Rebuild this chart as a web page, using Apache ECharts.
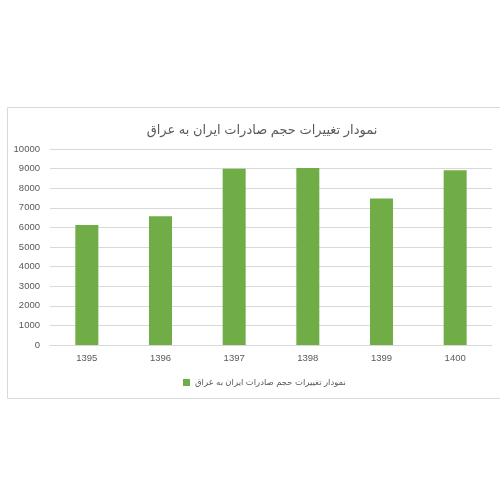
<!DOCTYPE html>
<html><head><meta charset="utf-8">
<script src="https://cdn.jsdelivr.net/npm/echarts@6/dist/echarts.min.js"></script>
<style>html,body{margin:0;padding:0;background:#fff}#c{width:500px;height:500px}</style>
</head><body><div id="c"></div>
<script>
const titleText = 'نمودار تغییرات حجم صادرات ایران به عراق';
const seriesName = 'نمودار تغییرات حجم صادرات ایران به عراق';
const categories = ['1395','1396','1397','1398','1399','1400'];
const values = [6120, 6570, 8990, 9030, 7470, 8910];
const yTicks = { min: 0, max: 10000, interval: 1000 };

const chart = echarts.init(document.getElementById('c'), null, {renderer:'canvas'});
const font = '"Liberation Sans", "DejaVu Sans", sans-serif';
chart.setOption({
  animation: false,
  graphic: [{
    type: 'rect', shape: {x: 7.5, y: 107.5, width: 500, height: 291},
    style: {fill: 'none', stroke: '#d9d9d9', lineWidth: 1}, silent: true, z: -1
  }],
  title: {
    text: titleText, left: 257, top: 119, textAlign: 'center',
    textStyle: {fontFamily: font, fontSize: 13, fontWeight: 'normal', color: '#595959'}
  },
  legend: {
    data: [seriesName], left: 178, top: 373,
    icon: 'rect', itemWidth: 7, itemHeight: 7, itemGap: 2,
    textStyle: {fontFamily: font, fontSize: 8.5, color: '#595959'}
  },
  grid: {left: 50, right: 8, top: 149, bottom: 155, containLabel: false},
  xAxis: {
    type: 'category', data: categories,
    axisLine: {lineStyle: {color: '#d9d9d9'}},
    axisTick: {show: false},
    axisLabel: {fontFamily: font, fontSize: 9.5, color: '#595959', margin: 8}
  },
  yAxis: {
    type: 'value', min: yTicks.min, max: yTicks.max, interval: yTicks.interval,
    axisLine: {show: false}, axisTick: {show: false},
    splitLine: {lineStyle: {color: '#d9d9d9'}},
    axisLabel: {fontFamily: font, fontSize: 9.5, color: '#595959', margin: 10,
      formatter: function (v) { return String(v); }}
  },
  series: [{
    name: seriesName, type: 'bar', data: values, barWidth: 23,
    itemStyle: {color: '#70ad47'}
  }]
});
</script></body></html>
